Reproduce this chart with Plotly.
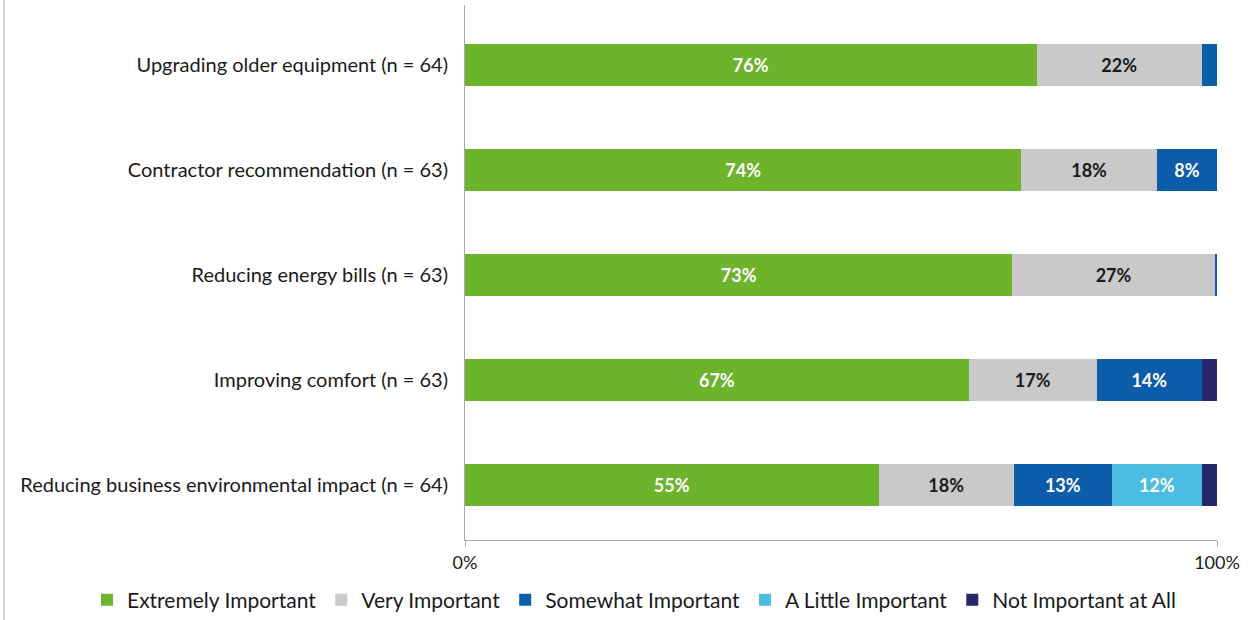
import plotly.graph_objects as go

categories = [
    "Upgrading older equipment (n = 64)",
    "Contractor recommendation (n = 63)",
    "Reducing energy bills (n = 63)",
    "Improving comfort (n = 63)",
    "Reducing business environmental impact (n = 64)",
]
extremely = [76, 74, 72.8, 67, 55]
very = [22, 18, 26.9, 17, 18]
somewhat = [2, 8, 0.3, 14, 13]
a_little = [0, 0, 0, 0, 12]
not_at_all = [0, 0, 0, 2, 2]

series = [
    ("Extremely Important", extremely, "#6DB42C", "white"),
    ("Very Important", very, "#C9C9C9", "#1a1a1a"),
    ("Somewhat Important", somewhat, "#0B5CA9", "white"),
    ("A Little Important", a_little, "#4CBDE2", "white"),
    ("Not Important at All", not_at_all, "#28266B", "white"),
]

FONT = "Lato, 'Open Sans', sans-serif"

W, H = 1249, 620
ML, MR, MT, MB = 465, 32, 5, 80
PW, PH = W - ML - MR, H - MT - MB

fig = go.Figure()
for name, vals, color, tcolor in series:
    labels = [f"{v:.0f}%" if v >= 5 else "" for v in vals]
    fig.add_trace(go.Bar(
        y=categories, x=vals, name=name, orientation="h",
        marker=dict(color=color, line=dict(width=0)),
        text=labels, textposition="inside", insidetextanchor="middle",
        textfont=dict(color=tcolor, size=18, family=FONT, weight="bold"),
        textangle=0, width=0.4, hoverinfo="x+name",
    ))

# light frame line at left edge of the image
fig.add_shape(type="line", xref="paper", yref="paper",
              x0=(4 - ML) / PW, x1=(4 - ML) / PW,
              y0=-MB / PH, y1=1 + MT / PH,
              line=dict(color="#d4d4d4", width=2))

fig.update_layout(
    barmode="stack",
    width=W, height=H,
    margin=dict(l=ML, r=MR, t=MT, b=MB, autoexpand=False),
    paper_bgcolor="white", plot_bgcolor="white",
    font=dict(family=FONT, size=20, color="#1a1a1a"),
    showlegend=True,
    legend=dict(
        orientation="h", x=(87 - ML) / PW, xanchor="left",
        y=-(600 - (MT + PH)) / PH, yanchor="middle",
        bgcolor="rgba(0,0,0,0)",
        font=dict(size=21, color="#1a1a1a"), traceorder="normal",
        itemsizing="constant", itemwidth=30,
    ),
    xaxis=dict(
        range=[0, 100], tickvals=[0, 100], ticktext=["0%", "100%"],
        showgrid=False, zeroline=False, showline=True,
        linecolor="#a8a8a8", linewidth=1,
        ticks="outside", ticklen=6, tickcolor="#a8a8a8",
        ticklabelstandoff=0, tickfont=dict(size=18),
        fixedrange=True,
    ),
    yaxis=dict(
        autorange=False, range=[4.52, -0.57],
        showgrid=False, zeroline=False,
        showline=True, linecolor="#a8a8a8", linewidth=1,
        ticklabelstandoff=12, tickfont=dict(size=20),
    ),
)

fig.write_html("out.html")
